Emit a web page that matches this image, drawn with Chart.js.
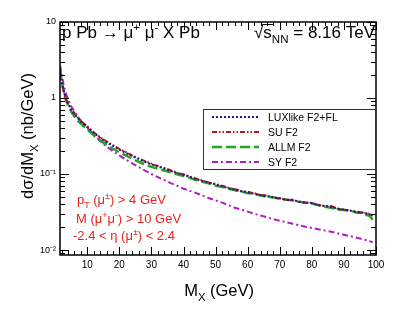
<!DOCTYPE html>
<html>
<head>
<meta charset="utf-8">
<script src="https://cdn.jsdelivr.net/npm/chart.js@4.4.0/dist/chart.umd.min.js"></script>
<style>
  html, body { margin: 0; padding: 0; background: #fff; }
</style>
</head>
<body>
<canvas id="c" width="407" height="312"></canvas>
<script>
// M_X (GeV)
var masses = [1.5, 2, 2.5, 3, 3.5, 4, 5, 6, 7, 8, 9, 10,
  12, 14, 16, 18, 20, 22, 24, 26, 28, 30, 32, 34, 36, 38, 40,
  42, 44, 46, 48, 50, 52, 54, 56, 58, 60, 62, 64, 66, 68, 70,
  72, 74, 76, 78, 80, 82, 84, 86, 88, 90, 92, 94, 96, 98, 99];

// dsigma/dM_X (nb/GeV)
var luxValues = [2.3, 1.7, 1.35, 1.1, 0.95, 0.85, 0.7, 0.61, 0.545, 0.495, 0.45, 0.415,
  0.35, 0.3, 0.262, 0.235, 0.21, 0.19, 0.172, 0.158, 0.145, 0.134, 0.126, 0.118, 0.11, 0.103, 0.098,
  0.092, 0.085, 0.081, 0.077, 0.073, 0.069, 0.065, 0.063, 0.059, 0.058, 0.055, 0.053, 0.051, 0.049, 0.048,
  0.0455, 0.046, 0.043, 0.042, 0.0415, 0.039, 0.038, 0.037, 0.035, 0.034, 0.033, 0.0315, 0.031, 0.0295, 0.029];

var suValues = [2.2, 1.6, 1.3, 1.08, 0.95, 0.86, 0.72, 0.63, 0.56, 0.505, 0.46, 0.425,
  0.355, 0.305, 0.268, 0.24, 0.214, 0.195, 0.176, 0.16, 0.148, 0.137, 0.127, 0.12, 0.112, 0.104, 0.099,
  0.092, 0.087, 0.082, 0.077, 0.074, 0.07, 0.066, 0.063, 0.06, 0.058, 0.056, 0.053, 0.052, 0.049, 0.048,
  0.046, 0.045, 0.044, 0.042, 0.042, 0.039, 0.038, 0.038, 0.035, 0.034, 0.033, 0.032, 0.031, 0.03, 0.028];

var allmValues = [2.45, 1.75, 1.3, 1.05, 0.9, 0.8, 0.66, 0.57, 0.505, 0.46, 0.42, 0.385,
  0.322, 0.277, 0.242, 0.215, 0.193, 0.176, 0.159, 0.145, 0.134, 0.124, 0.117, 0.111, 0.105, 0.099, 0.094,
  0.089, 0.083, 0.079, 0.075, 0.07, 0.068, 0.064, 0.061, 0.059, 0.056, 0.055, 0.052, 0.05, 0.0495, 0.047,
  0.046, 0.045, 0.043, 0.042, 0.041, 0.039, 0.037, 0.036, 0.034, 0.0335, 0.033, 0.031, 0.0305, 0.028, 0.025];

var syValues = [2.7, 2.05, 1.6, 1.3, 1.1, 0.96, 0.78, 0.66, 0.57, 0.5, 0.45, 0.405,
  0.33, 0.272, 0.23, 0.199, 0.176, 0.155, 0.138, 0.124, 0.111, 0.1, 0.091, 0.083, 0.076, 0.07, 0.064,
  0.06, 0.056, 0.052, 0.048, 0.045, 0.042, 0.039, 0.036, 0.034, 0.032, 0.03, 0.0285, 0.027, 0.0255, 0.0243,
  0.0232, 0.0222, 0.0212, 0.0203, 0.0195, 0.0188, 0.0181, 0.0174, 0.0166, 0.0159, 0.0152, 0.0145, 0.0138, 0.0131, 0.0126];

var seriesNames = ["LUXlike F2+FL", "SU F2", "ALLM F2", "SY F2"];
var xTickValues = [10, 20, 30, 40, 50, 60, 70, 80, 90, 100];
var yTickValues = [0.01, 0.1, 1, 10];
var yTickLabels = ["10\u207B\u00B2", "10\u207B\u00B9", "1", "10"];

var fontName = "'Liberation Sans', Arial, sans-serif";

function toPoints(vals) {
  return masses.map(function (m, i) { return { x: m, y: vals[i] }; });
}

// texte avec indices / exposants : [texte, 0 normal | 1 indice | 2 exposant]
function drawParts(ctx, parts, x, y, size) {
  parts.forEach(function (p) {
    var s = p[1] ? size * 0.68 : size;
    var dy = p[1] === 1 ? size * 0.28 : (p[1] === 2 ? -size * 0.42 : 0);
    ctx.font = s + "px " + fontName;
    ctx.fillText(p[0], x, y + dy);
    x += ctx.measureText(p[0]).width;
  });
  return x;
}
function partsWidth(ctx, parts, size) {
  var w = 0;
  parts.forEach(function (p) {
    ctx.font = (p[1] ? size * 0.68 : size) + "px " + fontName;
    w += ctx.measureText(p[0]).width;
  });
  return w;
}

function line(ctx, x1, y1, x2, y2) {
  ctx.beginPath(); ctx.moveTo(x1, y1); ctx.lineTo(x2, y2); ctx.stroke();
}

var rootStyle = {
  id: "rootStyle",
  afterDatasetsDraw: function (chart) {
    var ctx = chart.ctx, a = chart.chartArea;
    var xs = chart.scales.x, ys = chart.scales.y;
    ctx.save();
    ctx.strokeStyle = "#000";
    ctx.lineWidth = 1;
    // ticks x (bas et haut)
    for (var v = 2; v <= 100; v += 2) {
      var px = Math.round(xs.getPixelForValue(v)) + 0.5;
      var len = v % 10 === 0 ? 8 : 4;
      line(ctx, px, a.bottom, px, a.bottom - len);
      line(ctx, px, a.top, px, a.top + len);
    }
    // ticks y log (gauche et droite)
    for (var d = -3; d <= 1; d++) {
      for (var k = 1; k <= 9; k++) {
        var val = k * Math.pow(10, d);
        if (val < ys.min || val > ys.max) continue;
        var py = Math.round(ys.getPixelForValue(val)) + 0.5;
        var l = k === 1 ? 9 : 5;
        line(ctx, a.left, py, a.left + l, py);
        line(ctx, a.right, py, a.right - l, py);
      }
    }
    ctx.lineWidth = 1.5;
    ctx.strokeRect(a.left, a.top, a.right - a.left, a.bottom - a.top);

    ctx.fillStyle = "#000";
    ctx.textBaseline = "alphabetic";
    // titre du processus
    drawParts(ctx, [["p Pb \u2192 \u03BC", 0], ["+", 2], [" \u03BC", 0], ["-", 2], [" X Pb", 0]], 62, 38, 17);
    // energie
    var eParts = [["\u221As", 0], ["NN", 1], [" = 8.16 TeV", 0]];
    var ex = 375 - partsWidth(ctx, eParts, 17);
    drawParts(ctx, eParts, ex, 38, 17);
    ctx.lineWidth = 1;
    ctx.font = "17px " + fontName;
    var sqW = ctx.measureText("\u221A").width;
    line(ctx, ex + sqW - 1, 24.5, ex + sqW + ctx.measureText("s").width + 1, 24.5);

    // titre axe x
    var xParts = [["M", 0], ["X", 1], [" (GeV)", 0]];
    drawParts(ctx, xParts, 254 - partsWidth(ctx, xParts, 16.5), 296, 16.5);

    // titre axe y
    var yParts = [["d\u03C3/dM", 0], ["X", 1], [" (nb/GeV)", 0]];
    ctx.save();
    ctx.translate(33, 136);
    ctx.rotate(-Math.PI / 2);
    drawParts(ctx, yParts, -partsWidth(ctx, yParts, 16.5) / 2, 0, 16.5);
    ctx.restore();

    // coupures
    ctx.fillStyle = "#e3261f";
    drawParts(ctx, [["p", 0], ["T", 1], [" (\u03BC", 0], ["\u00B1", 2], [") > 4 GeV", 0]], 77, 204, 13);
    drawParts(ctx, [["M (\u03BC", 0], ["+", 2], ["\u03BC", 0], ["-", 2], [") > 10 GeV", 0]], 76, 223, 13);
    drawParts(ctx, [["-2.4 < \u03B7 (\u03BC", 0], ["\u00B1", 2], [") < 2.4", 0]], 73, 240, 13);

    // legende
    ctx.fillStyle = "#fff";
    ctx.fillRect(203, 109, 172, 60);
    ctx.strokeStyle = "#333";
    ctx.lineWidth = 1;
    ctx.strokeRect(203.5, 109.5, 172, 60);
    ctx.font = "10.5px " + fontName;
    ctx.textBaseline = "middle";
    chart.data.datasets.forEach(function (ds, i) {
      var y = 117 + i * 15;
      ctx.strokeStyle = ds.borderColor;
      ctx.lineWidth = ds.borderWidth;
      ctx.setLineDash(ds.borderDash);
      line(ctx, 212, y, 259, y);
      ctx.setLineDash([]);
      ctx.fillStyle = "#000";
      ctx.fillText(ds.label, 268, y + 1);
    });
    ctx.restore();
  }
};

new Chart(document.getElementById("c"), {
  type: "line",
  data: {
    datasets: [
      { label: seriesNames[0], data: toPoints(luxValues), borderColor: "#1a1a8c", borderWidth: 2, borderDash: [2, 2] },
      { label: seriesNames[1], data: toPoints(suValues), borderColor: "#c0141c", borderWidth: 2, borderDash: [5, 2, 1.5, 2, 1.5, 2] },
      { label: seriesNames[2], data: toPoints(allmValues), borderColor: "#1fa71f", borderWidth: 2.5, borderDash: [10, 4] },
      { label: seriesNames[3], data: toPoints(syValues), borderColor: "#b01ec0", borderWidth: 2, borderDash: [6, 3, 2, 3] }
    ]
  },
  options: {
    responsive: false,
    animation: false,
    layout: { padding: { left: 0, top: 22, right: 31, bottom: 0 } },
    elements: { point: { radius: 0 }, line: { tension: 0, fill: false } },
    plugins: { legend: { display: false }, tooltip: { enabled: false } },
    scales: {
      x: {
        type: "linear",
        min: 1.5,
        max: 100,
        border: { display: false },
        grid: { display: false, drawTicks: false },
        afterBuildTicks: function (s) { s.ticks = xTickValues.map(function (v) { return { value: v }; }); },
        afterFit: function (s) { s.height = 57; },
        ticks: { autoSkip: false, maxRotation: 0, padding: 4, color: "#000", font: { family: fontName, size: 10 } }
      },
      y: {
        type: "logarithmic",
        min: 0.0086,
        max: 10,
        border: { display: false },
        grid: { display: false, drawTicks: false },
        afterBuildTicks: function (s) { s.ticks = yTickValues.map(function (v) { return { value: v }; }); },
        afterFit: function (s) { s.width = 60; },
        ticks: {
          autoSkip: false, padding: 4, color: "#000", font: { family: fontName, size: 9 },
          callback: function (v) { var i = yTickValues.indexOf(v); return i >= 0 ? yTickLabels[i] : ""; }
        }
      }
    }
  },
  plugins: [rootStyle]
});
</script>
</body>
</html>
